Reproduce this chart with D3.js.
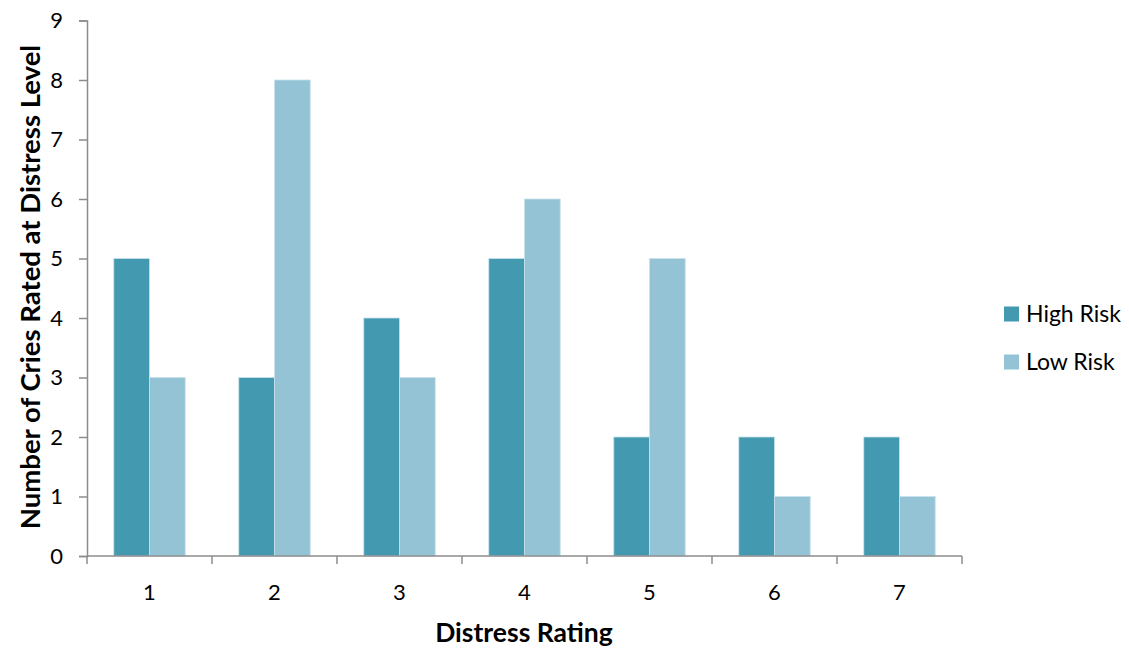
<!DOCTYPE html>
<html>
<head>
<meta charset="utf-8">
<script src="https://cdn.jsdelivr.net/npm/d3@7"></script>
<style>
  body { margin: 0; background: #fff; }
  text { font-family: Lato, "Open Sans", sans-serif; fill: #000; }
</style>
</head>
<body>
<svg id="main-svg"></svg>
<script>
let categories = ['1', '2', '3', '4', '5', '6', '7'];
let seriesNames = ['High Risk', 'Low Risk'];
let highRisk = [5, 3, 4, 5, 2, 2, 2];
let lowRisk = [3, 8, 3, 6, 5, 1, 1];
let yTicks = [0, 1, 2, 3, 4, 5, 6, 7, 8, 9];
let colors = ['#4399af', '#93c3d4'];

let width = 1129;
let height = 648;
let plotLeft = 87, plotRight = 962, plotTop = 20.5, plotBottom = 556;

let svg = d3.select('#main-svg')
  .attr('width', width)
  .attr('height', height);

let x0 = d3.scaleBand().domain(categories).range([plotLeft, plotRight]).padding(0);
let x1 = d3.scaleBand().domain(seriesNames).range([0, x0.bandwidth()]).paddingInner(0).paddingOuter(0.75);
let y = d3.scaleLinear().domain([0, 9]).range([plotBottom, plotTop]);

let rows = categories.map((c, i) => ({ cat: c, values: [highRisk[i], lowRisk[i]] }));

// bars
let groups = svg.append('g').selectAll('g')
  .data(rows)
  .join('g')
    .attr('transform', d => `translate(${x0(d.cat)},0)`);

groups.selectAll('rect')
  .data(d => d.values.map((v, i) => ({ name: seriesNames[i], value: v, i })))
  .join('rect')
    .attr('x', d => x1(d.name))
    .attr('width', x1.bandwidth())
    .attr('y', d => y(d.value))
    .attr('height', d => y(0) - y(d.value))
    .style('fill', d => colors[d.i])
    .style('stroke', '#c8e2ea')
    .style('stroke-width', 0.8);

// y axis
let yAxis = svg.append('g')
  .attr('transform', `translate(${plotLeft},0)`)
  .call(d3.axisLeft(y).tickValues(yTicks).tickSize(8).tickPadding(16).tickFormat(d3.format('d')));

// x axis with ticks on category boundaries
let boundaries = d3.range(categories.length + 1).map(i => plotLeft + i * x0.step());
let xAxisG = svg.append('g');
xAxisG.append('line')
  .attr('x1', plotLeft).attr('x2', plotRight)
  .attr('y1', plotBottom).attr('y2', plotBottom);
xAxisG.selectAll('.xtick')
  .data(boundaries)
  .join('line')
    .attr('class', 'xtick')
    .attr('x1', d => d).attr('x2', d => d)
    .attr('y1', plotBottom).attr('y2', plotBottom + 8);
xAxisG.selectAll('text')
  .data(categories)
  .join('text')
    .attr('x', d => x0(d) + x0.bandwidth() / 2)
    .attr('y', 592)
    .attr('dy', '0.35em')
    .attr('text-anchor', 'middle')
    .style('font-size', '22px')
    .text(d => d);

xAxisG.selectAll('line').style('stroke', '#8c8c8c').style('stroke-width', 1.5);
yAxis.select('.domain').style('stroke', '#8c8c8c').style('stroke-width', 1.5);
yAxis.selectAll('.tick line').style('stroke', '#8c8c8c').style('stroke-width', 1.5);
yAxis.selectAll('.tick text').style('font-size', '22px').style('font-family', 'Lato, sans-serif').style('fill', '#000');

// titles
svg.append('text')
  .attr('x', 524)
  .attr('y', 633)
  .attr('dy', '0.35em')
  .attr('text-anchor', 'middle')
  .style('font-size', '26.5px')
  .style('font-weight', 'bold')
  .text('Distress Rating');

svg.append('text')
  .attr('transform', `translate(30,287) rotate(-90)`)
  .attr('dy', '0.35em')
  .attr('text-anchor', 'middle')
  .style('font-size', '27.5px')
  .style('font-weight', 'bold')
  .text('Number of Cries Rated at Distress Level');

// legend
let legend = svg.append('g').selectAll('g')
  .data(seriesNames)
  .join('g')
    .attr('transform', (d, i) => `translate(1004,${314 + i * 48})`);
legend.append('rect')
  .attr('x', 0).attr('y', -7.5)
  .attr('width', 15).attr('height', 15)
  .style('fill', (d, i) => colors[i]);
legend.append('text')
  .attr('x', 22)
  .attr('dy', '0.35em')
  .style('font-size', '23px')
  .text(d => d);
</script>
</body>
</html>
